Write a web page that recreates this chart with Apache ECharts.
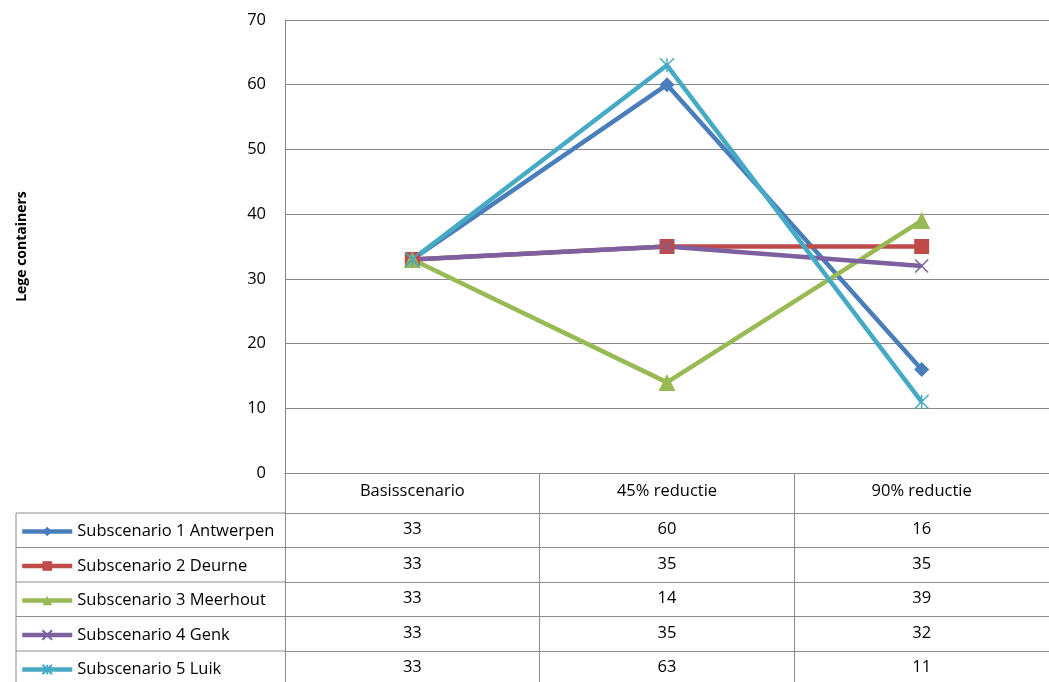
<!DOCTYPE html>
<html>
<head>
<meta charset="utf-8">
<script src="https://cdn.jsdelivr.net/npm/echarts@6/dist/echarts.min.js"></script>
<style>
  html, body { margin: 0; padding: 0; background: #fff; }
  #chart { width: 1049px; height: 682px; }
</style>
</head>
<body>
<div id="chart"></div>
<script>
// data
const categories = ["Basisscenario", "45% reductie", "90% reductie"];
const seriesNames = [
  "Subscenario 1 Antwerpen",
  "Subscenario 2 Deurne",
  "Subscenario 3 Meerhout",
  "Subscenario 4 Genk",
  "Subscenario 5 Luik"
];
const antwerpen = [33, 60, 16];
const deurne = [33, 35, 35];
const meerhout = [33, 14, 39];
const genk = [33, 35, 32];
const luik = [33, 63, 11];
const yTicks = [0, 10, 20, 30, 40, 50, 60, 70];

const values = [antwerpen, deurne, meerhout, genk, luik];
const colors = ["#4a7ebb", "#be4b48", "#98b954", "#7d60a0", "#46aac5"];
const symbols = [
  "diamond",
  "rect",
  "triangle",
  "path://M0,0L10,10M10,0L0,10",
  "path://M0,0L10,10M10,0L0,10M5,0L5,10"
];
const symbolSizes = [15, 15, 17, 13, 14];

const FONT = "Open Sans";
const FS = 16.5;
const gridColor = "#868686";
const tableColor = "#8c8c8c";

// layout (table under the plot)
const plotLeft = 285, plotTop = 20, plotW = 769, plotH = 453;
const headerH = 40, rowH = 34.5, tableLeft = 16;
const firstRowTop = plotTop + plotH + headerH;

const mychart = echarts.init(document.getElementById("chart"));

let xAxes = [{
  type: "category",
  data: categories,
  boundaryGap: true,
  axisLine: { show: true, lineStyle: { color: gridColor, width: 1 } },
  axisTick: { show: true, interval: 0, length: 215, lineStyle: { color: tableColor } },
  axisLabel: { margin: 10, fontSize: FS, fontFamily: FONT, color: "#000" }
}];
// one category axis per row of the data table
values.forEach((vals, i) => {
  xAxes.push({
    type: "category",
    data: categories,
    position: "bottom",
    offset: headerH + rowH * i,
    axisLine: { show: true, lineStyle: { color: tableColor, width: 1 } },
    axisTick: { show: false },
    axisLabel: {
      margin: 8, fontSize: FS, fontFamily: FONT, color: "#000",
      formatter: (v, idx) => String(vals[idx])
    }
  });
});

let graphics = [];
for (let j = 0; j <= 5; j++) {
  graphics.push({
    type: "line",
    shape: { x1: tableLeft, y1: firstRowTop + rowH * j, x2: plotLeft, y2: firstRowTop + rowH * j },
    style: { stroke: tableColor, lineWidth: 1 }
  });
}
graphics.push({
  type: "line",
  shape: { x1: tableLeft, y1: firstRowTop, x2: tableLeft, y2: 682 },
  style: { stroke: tableColor, lineWidth: 1 }
});

let series = values.map((vals, i) => ({
  name: seriesNames[i],
  type: "line",
  xAxisIndex: 0,
  data: vals,
  symbol: symbols[i],
  symbolSize: symbolSizes[i],
  showAllSymbol: true,
  lineStyle: { color: colors[i], width: 4.5 },
  itemStyle: {
    color: colors[i],
    borderColor: colors[i],
    borderWidth: i >= 3 ? 1.5 : 0
  },
  emphasis: { disabled: true },
  animation: false
}));

let option = {
  backgroundColor: "#fff",
  animation: false,
  grid: { left: plotLeft, top: plotTop, width: plotW, height: plotH, containLabel: false },
  legend: {
    orient: "vertical",
    left: 20,
    top: firstRowTop + 10,
    itemWidth: 50,
    itemHeight: 12,
    itemGap: rowH - 17,
    padding: 0,
    selectedMode: false,
    lineStyle: { width: 4.5 },
    textStyle: { fontSize: FS, fontFamily: FONT, color: "#000" },
    data: seriesNames
  },
  xAxis: xAxes,
  yAxis: {
    type: "value",
    min: yTicks[0],
    max: yTicks[yTicks.length - 1],
    interval: 10,
    name: "Lege containers",
    nameLocation: "middle",
    nameGap: 256,
    nameRotate: 90,
    nameTextStyle: { fontSize: 14, fontWeight: "bold", fontFamily: FONT, color: "#000" },
    axisLine: { show: true, lineStyle: { color: gridColor } },
    axisTick: { show: false },
    axisLabel: { margin: 19, fontSize: FS, fontFamily: FONT, color: "#000" },
    splitLine: { show: true, lineStyle: { color: gridColor, width: 1 } }
  },
  graphic: graphics,
  series: series
};
mychart.setOption(option);
</script>
</body>
</html>
